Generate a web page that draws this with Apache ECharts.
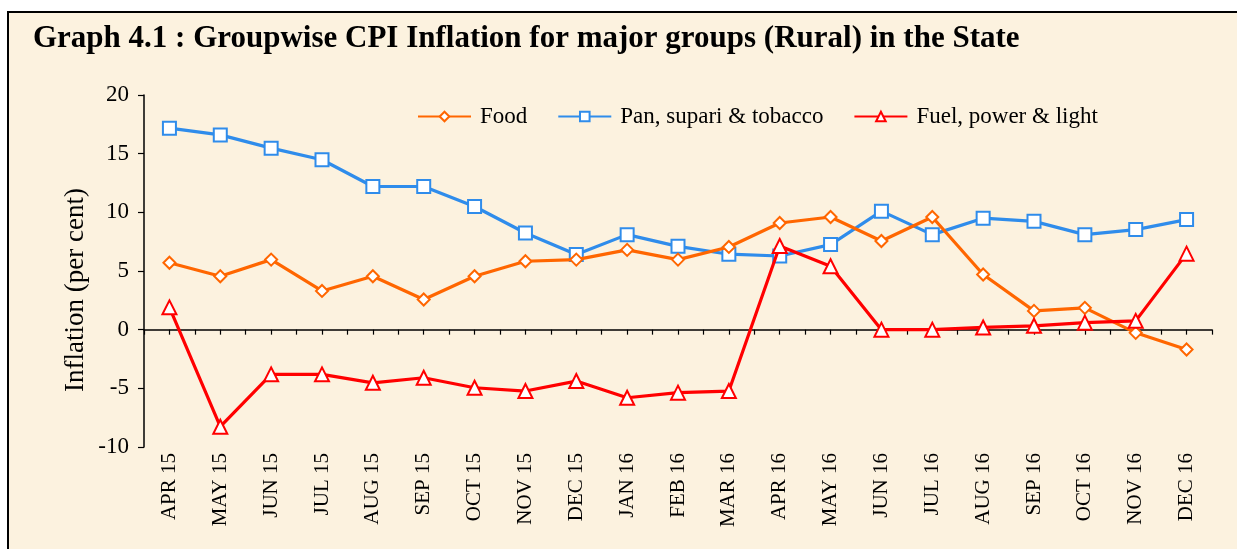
<!DOCTYPE html>
<html>
<head>
<meta charset="utf-8">
<script src="https://cdn.jsdelivr.net/npm/echarts@6/dist/echarts.min.js"></script>
<style>
html,body{margin:0;padding:0;background:#fff;width:1237px;height:549px;overflow:hidden;}
#frame{position:absolute;left:7px;top:11px;width:1240px;height:560px;background:#FCF2DF;border-left:2px solid #000;border-top:2px solid #000;}
#chart{position:absolute;left:0;top:0;width:1237px;height:549px;}
</style>
</head>
<body>
<div id="frame"></div>
<div id="chart"></div>
<script>
const categories = ['APR 15','MAY 15','JUN 15','JUL 15','AUG 15','SEP 15','OCT 15','NOV 15','DEC 15','JAN 16','FEB 16','MAR 16','APR 16','MAY 16','JUN 16','JUL 16','AUG 16','SEP 16','OCT 16','NOV 16','DEC 16'];
const food = [5.7,4.55,5.97,3.3,4.55,2.57,4.55,5.83,5.97,6.8,5.97,7.05,9.09,9.6,7.56,9.6,4.7,1.6,1.86,-0.27,-1.69];
const pan = [17.17,16.6,15.47,14.48,12.2,12.2,10.5,8.24,6.4,8.1,7.1,6.43,6.28,7.25,10.1,8.1,9.5,9.23,8.1,8.53,9.38];
const fuel = [1.9,-8.27,-3.81,-3.81,-4.53,-4.1,-4.95,-5.23,-4.38,-5.8,-5.37,-5.23,7.13,5.4,0.0,0.0,0.19,0.33,0.6,0.75,6.48];
const seriesNames = ['Food','Pan, supari & tobacco','Fuel, power & light'];
const yTicks = {min:-10,max:20,interval:5};
const titleText = 'Graph 4.1 : Groupwise CPI Inflation for major groups (Rural) in the State';
const yAxisName = 'Inflation (per cent)';

// half-category slots, used only to draw tick marks at centres and boundaries
const halfTicks = [];
categories.forEach(c => { halfTicks.push(c + 'a'); halfTicks.push(c + 'b'); });

const serif = '"Liberation Serif", "Times New Roman", serif';
const chart = echarts.init(document.getElementById('chart'));
chart.setOption({
  backgroundColor: 'transparent',
  animation: false,
  title: {
    text: titleText, left: 28, top: 18,
    textStyle: {fontFamily: serif, fontWeight: 'bold', fontSize: 31, color: '#000'}
  },
  legend: {
    top: 100, left: 412,
    itemWidth: 53, itemHeight: 12, itemGap: 30,
    textStyle: {fontFamily: serif, fontSize: 23, color: '#000', padding:[0,0,0,4]},
    data: seriesNames
  },
  graphic: [{
    type: 'text', left: 62, top: 188, rotation: Math.PI / 2,
    style: {text: yAxisName, font: '27px ' + serif, fill: '#000'}
  }],
  grid: {left: 144, right: 25, top: 95, bottom: 102},
  xAxis: [{
    type: 'category', data: categories, boundaryGap: true, position: 'bottom',
    axisLine: {onZero: true, lineStyle: {color: '#000', width: 1.5}},
    axisTick: {show: false},
    axisLabel: {rotate: 90, fontFamily: serif, fontSize: 21, color: '#000', margin: 6, interval: 0}
  },{
    type: 'category', data: halfTicks, boundaryGap: true, position: 'bottom',
    axisLine: {show: false, onZero: true, onZeroAxisIndex: 1},
    axisTick: {show: true, inside: false, length: 5, interval: 0, lineStyle: {color:'#000', width: 1.2}},
    axisLabel: {show: false}
  }],
  yAxis: [{
    type: 'value', min: yTicks.min, max: yTicks.max, interval: yTicks.interval,
    axisLine: {show: true, lineStyle: {color: '#000', width: 1.5}},
    axisTick: {show: true, length: 6, lineStyle: {color: '#000', width: 1.2}},
    axisLabel: {fontFamily: serif, fontSize: 23, color: '#000', margin: 15},
    splitLine: {show: false}
  },{
    type: 'value', min: yTicks.min, max: yTicks.max, interval: yTicks.interval, show: false,
    splitLine: {show: false}
  }],
  series: [
    {name: seriesNames[0], type: 'line', data: food, symbol: 'diamond', symbolSize: 12,
     lineStyle: {color: '#FF6600', width: 3.2}, itemStyle: {color: '#fff', borderColor: '#FF6600', borderWidth: 2}, color: '#FF6600', z: 3},
    {name: seriesNames[1], type: 'line', data: pan, symbol: 'rect', symbolSize: 13,
     lineStyle: {color: '#2F8CEB', width: 3.2}, itemStyle: {color: '#fff', borderColor: '#2F8CEB', borderWidth: 2}, color: '#2F8CEB', z: 2},
    {name: seriesNames[2], type: 'line', data: fuel, symbol: 'triangle', symbolSize: 14,
     lineStyle: {color: '#FF0000', width: 3.2}, itemStyle: {color: '#fff', borderColor: '#FF0000', borderWidth: 2}, color: '#FF0000', z: 4}
  ]
});
</script>
</body>
</html>
